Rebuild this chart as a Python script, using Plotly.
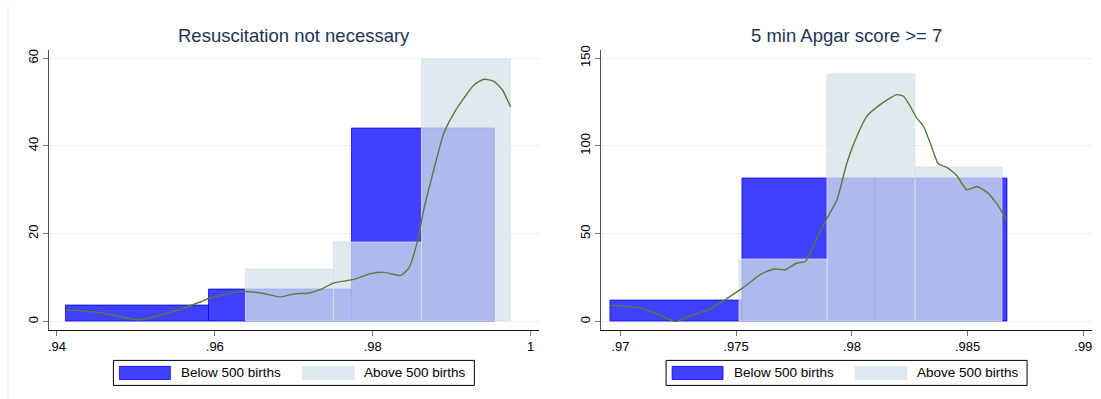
import numpy as np
import plotly.graph_objects as go

# ---------------- data ----------------
left_title = "Resuscitation not necessary"
right_title = "5 min Apgar score >= 7"
legend_labels = ["Below 500 births", "Above 500 births"]

# histogram bin edges and densities
left_below_edges = [0.94114, 0.95927, 0.97739, 0.99552]
left_below_dens = [3.7, 7.38, 43.9]
left_above_edges = [0.96392, 0.97510, 0.98628, 0.99747]
left_above_dens = [11.8, 18.0, 59.7]

right_below_edges = [0.96957, 0.97528, 0.98100, 0.98671]
right_below_dens = [11.7, 81.7, 81.7]
right_above_edges = [0.97515, 0.97894, 0.98273, 0.98652]
right_above_dens = [35.2, 140.8, 87.6]

# density curves
left_curve_x = [0.94114, 0.94557, 0.95042, 0.95400, 0.95823, 0.95928, 0.96329, 0.96582,
                0.96835, 0.97004, 0.97200, 0.97342, 0.97510, 0.97763, 0.97975, 0.98143,
                0.98354, 0.98460, 0.98566, 0.98650, 0.98776, 0.98903, 0.99030, 0.99156,
                0.99283, 0.99409, 0.99536, 0.99642, 0.99747]
left_curve_y = [2.64, 2.0, 0.38, 1.9, 4.5, 5.3, 6.8, 6.5,
                5.6, 6.3, 6.5, 7.3, 8.8, 9.6, 10.9, 11.2,
                10.5, 12.2, 18.2, 25.7, 34.7, 43.0, 47.5, 50.9,
                53.9, 55.2, 54.7, 52.8, 48.9]

right_curve_x = [0.96957, 0.97057, 0.97144, 0.97237, 0.97302, 0.97345, 0.97389, 0.97461,
                 0.97532, 0.97604, 0.97662, 0.97712, 0.97763, 0.97799, 0.97849, 0.97892,
                 0.97935, 0.97979, 0.98022, 0.98065, 0.98122, 0.98158, 0.98194, 0.98223,
                 0.98252, 0.98280, 0.98309, 0.98338, 0.98374, 0.98410, 0.98453, 0.98496,
                 0.98540, 0.98583, 0.98626, 0.98669]
right_curve_y = [9.2, 8.3, 5.1, 0.0, 3.2, 5.0, 7.2, 13.2,
                 19.4, 26.7, 29.9, 29.5, 33.3, 34.2, 47.4, 58.7,
                 69.0, 90.6, 105.7, 117.0, 123.5, 126.7, 129.2, 128.3,
                 122.6, 116.0, 111.3, 101.9, 89.7, 87.8, 83.1, 75.0,
                 76.9, 73.7, 67.1, 57.8]

left_xticks = [0.94, 0.96, 0.98, 1.0]
left_xticktext = [".94", ".96", ".98", "1"]
left_yticks = [0, 20, 40, 60]
right_xticks = [0.97, 0.975, 0.98, 0.985, 0.99]
right_xticktext = [".97", ".975", ".98", ".985", ".99"]
right_yticks = [0, 50, 100, 150]

# ---------------- style ----------------
W, H = 1101, 399
FONT = "Liberation Sans, Arial, sans-serif"
BLUE = "rgba(0,0,255,0.75)"
LIGHT = "rgba(214,225,232,0.75)"
LINE = "#5a7b3a"
GRID = "#e9f0f2"

def px_x(p):
    return p / W

def px_y(p):
    return 1 - p / H

fig = go.Figure()

def add_hist(edges, dens, color, xa, ya):
    e = np.array(edges)
    centers = (e[:-1] + e[1:]) / 2
    widths = e[1:] - e[:-1]
    fig.add_trace(go.Bar(x=centers, y=dens, width=widths, xaxis=xa, yaxis=ya,
                         marker=dict(color=color, line=dict(color=color, width=1)),
                         showlegend=False, hoverinfo="skip"))

add_hist(left_below_edges, left_below_dens, BLUE, "x", "y")
add_hist(left_above_edges, left_above_dens, LIGHT, "x", "y")
fig.add_trace(go.Scatter(x=left_curve_x, y=left_curve_y, mode="lines", xaxis="x", yaxis="y",
                         line=dict(color=LINE, width=1.4, shape="spline", smoothing=0.6),
                         showlegend=False, hoverinfo="skip"))
add_hist(right_below_edges, right_below_dens, BLUE, "x2", "y2")
add_hist(right_above_edges, right_above_dens, LIGHT, "x2", "y2")
fig.add_trace(go.Scatter(x=right_curve_x, y=right_curve_y, mode="lines", xaxis="x2", yaxis="y2",
                         line=dict(color=LINE, width=1.4, shape="spline", smoothing=0.5),
                         showlegend=False, hoverinfo="skip"))

ydom = [px_y(329), px_y(46)]
common_x = dict(showline=True, linecolor="#111111", linewidth=1, ticks="outside", ticklen=5,
                tickcolor="#777777", tickwidth=1, showgrid=False, zeroline=False,
                tickfont=dict(family=FONT, size=13, color="#000000"))
common_y = dict(showline=True, linecolor="#555555", linewidth=1, ticks="outside", ticklen=5,
                tickcolor="#777777", tickwidth=1, showgrid=True, gridcolor=GRID, gridwidth=1,
                zeroline=False, tickangle=-90,
                tickfont=dict(family=FONT, size=13, color="#000000"))

fig.update_layout(
    width=W, height=H, margin=dict(l=0, r=0, t=0, b=0),
    paper_bgcolor="white", plot_bgcolor="white", barmode="overlay", bargap=0,
    xaxis=dict(domain=[px_x(48), px_x(538)], range=[0.93899, 1.00101],
               tickvals=left_xticks, ticktext=left_xticktext, anchor="y", **common_x),
    yaxis=dict(domain=ydom, range=[-1.872, 61.97], tickvals=left_yticks, anchor="x", **common_y),
    xaxis2=dict(domain=[px_x(601), px_x(1092)], range=[0.96918, 0.990376],
                tickvals=right_xticks, ticktext=right_xticktext, anchor="y2", **common_x),
    yaxis2=dict(domain=ydom, range=[-4.68, 154.9], tickvals=right_yticks, anchor="x2", **common_y),
    showlegend=False,
)

# titles
for title, cx in [(left_title, (48 + 538) / 2), (right_title, (601 + 1092) / 2)]:
    fig.add_annotation(text=title, x=px_x(cx), y=px_y(32), xref="paper", yref="paper",
                       xanchor="center", yanchor="middle", showarrow=False,
                       font=dict(family=FONT, size=18.5, color="#1f3453"))

# legends (drawn boxes + real text)
shapes = [dict(type="line", xref="paper", yref="paper", x0=px_x(7), x1=px_x(7), y0=0, y1=1,
               line=dict(color="#eeeeee", width=1))]
for bx in [112.5, 665.7]:
    shapes.append(dict(type="rect", xref="paper", yref="paper",
                       x0=px_x(bx), x1=px_x(bx + 361.3), y0=px_y(385.3), y1=px_y(360),
                       line=dict(color="#000000", width=1), fillcolor="white"))
    shapes.append(dict(type="rect", xref="paper", yref="paper",
                       x0=px_x(bx + 6), x1=px_x(bx + 57), y0=px_y(379.3), y1=px_y(366),
                       line=dict(color=BLUE, width=1), fillcolor=BLUE))
    shapes.append(dict(type="rect", xref="paper", yref="paper",
                       x0=px_x(bx + 189.3), x1=px_x(bx + 241), y0=px_y(379.3), y1=px_y(366),
                       line=dict(color=LIGHT, width=1), fillcolor=LIGHT))
    for lbl, off in [(legend_labels[0], 66), (legend_labels[1], 249.3)]:
        fig.add_annotation(text=lbl, x=px_x(bx + off), y=px_y(372.7), xref="paper", yref="paper",
                           xanchor="left", yanchor="middle", showarrow=False,
                           font=dict(family=FONT, size=13.5, color="#000000"))
fig.update_layout(shapes=shapes)

fig.write_html("out.html")
